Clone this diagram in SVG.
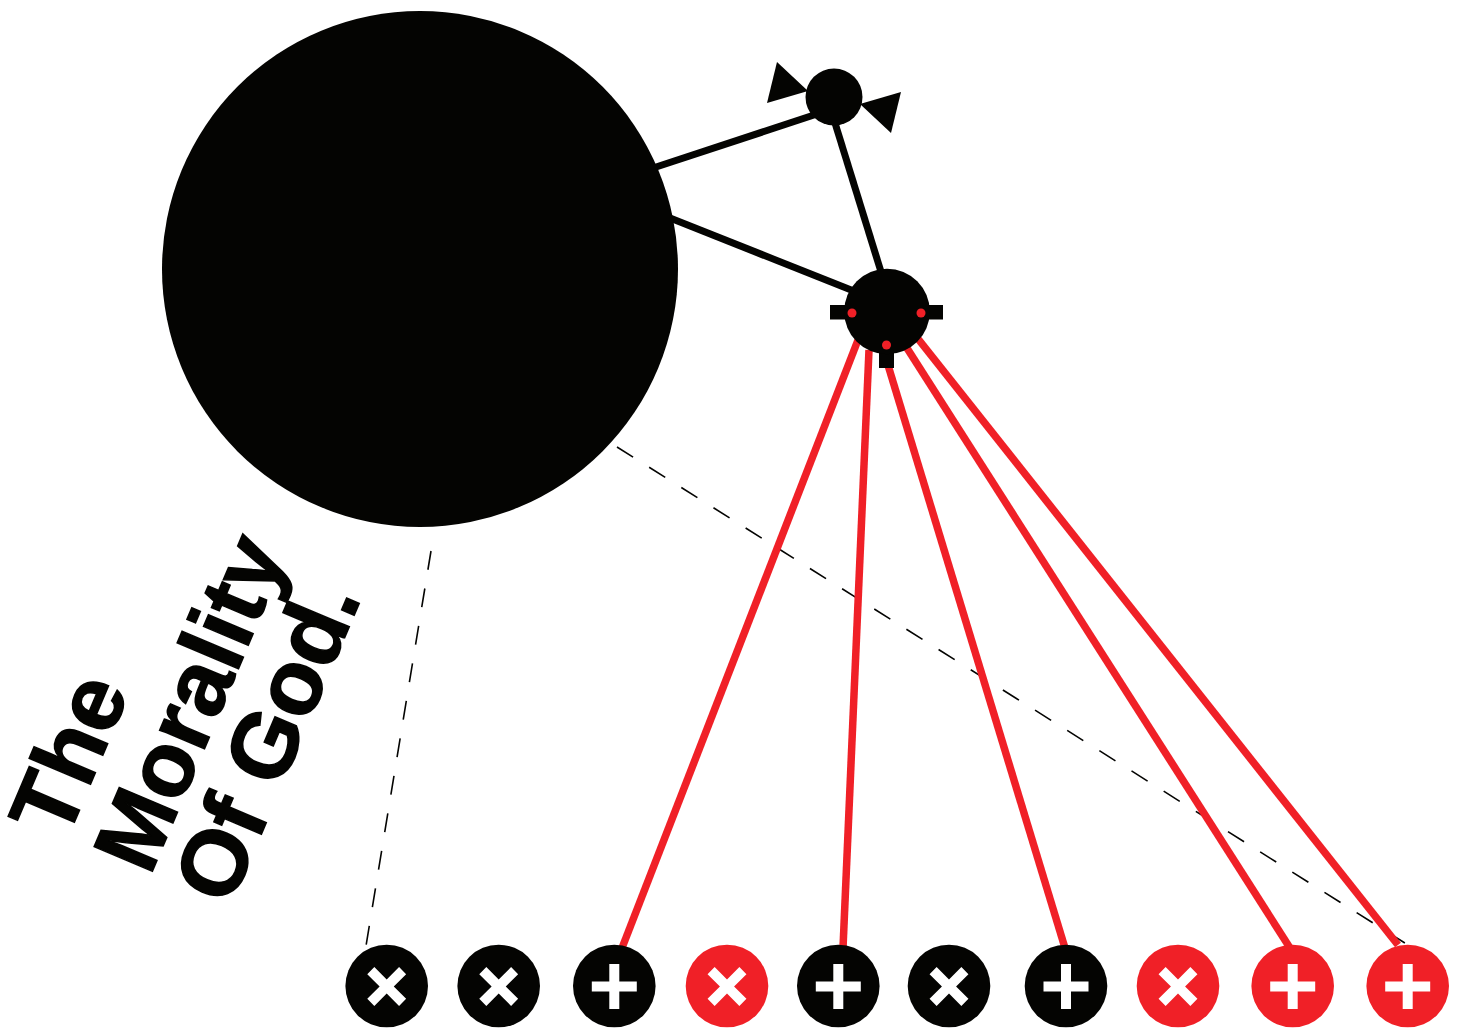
<svg xmlns="http://www.w3.org/2000/svg" width="1463" height="1032" viewBox="0 0 1463 1032">
<style>
.k{fill:#040402}
.r{fill:#f02027}
.g{fill:#fff}
.lk{stroke:#040402;stroke-width:7;fill:none}
.lr{stroke:#f02027;stroke-width:7.5;fill:none}
.ld{stroke:#040402;stroke-width:1.6;stroke-dasharray:19 19;fill:none}
text{font-family:"Liberation Sans",Arial,sans-serif;font-weight:700;font-size:92px;fill:#040402;stroke:#040402;stroke-width:1.5}
</style>
<defs>
<path id="plus" d="M-5-22.500H5V-5H22.500V5H5V22.500H-5V5H-22.500V-5H-5Z"/>
</defs>
<rect width="1463" height="1032" fill="#fff"/>
<g id="connectors">
<path class="ld" d="M431 551L366 946"/>
<path class="ld" d="M617 447L1408 945"/>
<path class="lk" d="M650 169L820 113"/>
<path class="lk" d="M665 216L855 291.600"/>
<path class="lk" d="M831 110L882 275"/>
<path class="lr" d="M858 340L622 948"/>
<path class="lr" d="M869 350L843 948"/>
<path class="lr" d="M884 352L1065 948"/>
<path class="lr" d="M905 345L1290 948"/>
<path class="lr" d="M915 335L1398 945"/>
</g>
<g id="god"><circle class="k" cx="420" cy="269" r="258"/></g>
<g id="top-node">
<circle class="k" cx="834" cy="97" r="28.500"/>
<path class="k" d="M777 62L808 91L767 103Z"/>
<path class="k" d="M901 92L860 104L891 133Z"/>
</g>
<g id="hub">
<rect class="k" x="830" y="305" width="113" height="14.500"/>
<rect class="k" x="879" y="340" width="15" height="28"/>
<circle class="k" cx="887" cy="311.500" r="42.800"/>
<circle class="r" cx="852" cy="313" r="4.500"/>
<circle class="r" cx="921" cy="313" r="4.500"/>
<circle class="r" cx="886.500" cy="345" r="4.500"/>
</g>
<g id="n1"><circle class="k" cx="386.700" cy="986" r="41.300"/><use href="#plus" class="g" transform="translate(386.700 986.500) rotate(45)"/></g>
<g id="n2"><circle class="k" cx="498.700" cy="986" r="41.300"/><use href="#plus" class="g" transform="translate(498.700 986.500) rotate(45)"/></g>
<g id="n3"><circle class="k" cx="614.300" cy="986" r="41.300"/><use href="#plus" class="g" transform="translate(614.300 986.500)"/></g>
<g id="n4"><circle class="r" cx="727" cy="986" r="41.300"/><use href="#plus" class="g" transform="translate(727 986.500) rotate(45)"/></g>
<g id="n5"><circle class="k" cx="838.300" cy="986" r="41.300"/><use href="#plus" class="g" transform="translate(838.300 986.500)"/></g>
<g id="n6"><circle class="k" cx="949" cy="986" r="41.300"/><use href="#plus" class="g" transform="translate(949 986.500) rotate(45)"/></g>
<g id="n7"><circle class="k" cx="1066" cy="986" r="41.300"/><use href="#plus" class="g" transform="translate(1066 986.500)"/></g>
<g id="n8"><circle class="r" cx="1178" cy="986" r="41.300"/><use href="#plus" class="g" transform="translate(1178 986.500) rotate(45)"/></g>
<g id="n9"><circle class="r" cx="1292.700" cy="986" r="41.300"/><use href="#plus" class="g" transform="translate(1292.700 986.500)"/></g>
<g id="n10"><circle class="r" cx="1407.700" cy="986" r="41.300"/><use href="#plus" class="g" transform="translate(1407.700 986.500)"/></g>
<g id="title">
<text transform="translate(66 842) rotate(-67)">The</text>
<text transform="translate(150 877) rotate(-67)">Morality</text>
<text transform="translate(230 908) rotate(-67)">Of God.</text>
</g>
</svg>
